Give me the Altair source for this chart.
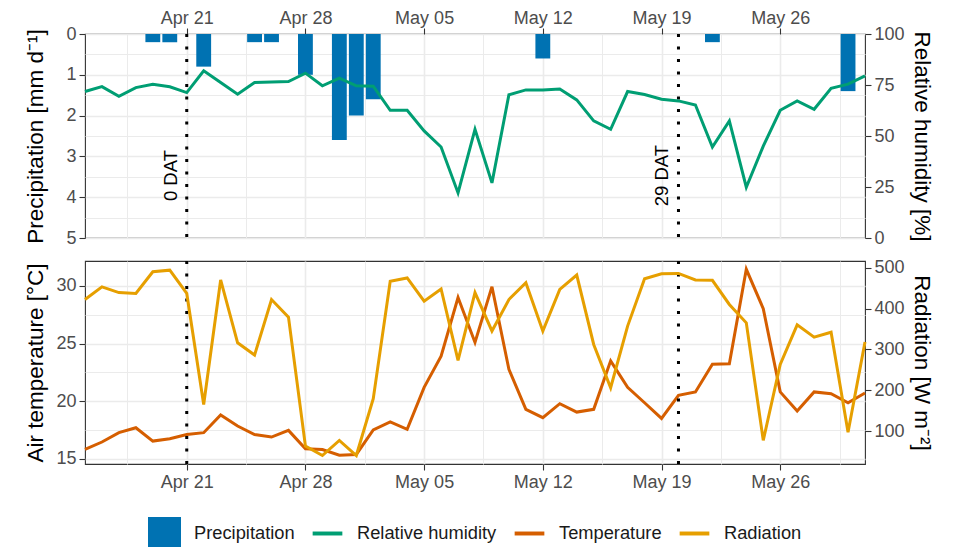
import altair as alt
import pandas as pd

# ---------------- data ----------------
days = pd.date_range("2021-04-15", "2021-05-31", freq="D")

rel_humidity = [71.8, 74.2, 69.5, 73.7, 75.4, 74.1, 71.3, 82.0, 76.2, 70.5, 76.2, 76.5, 76.7, 80.8, 74.6, 78.4,
                74.6, 74.4, 62.6, 62.6, 52.5, 44.6, 22.1, 53.3, 27.0, 70.2, 72.6, 72.5, 73.0, 67.7, 57.4, 53.3,
                71.8, 70.3, 68.0, 67.2, 65.2, 44.6, 57.4, 24.9, 45.0, 62.6, 67.2, 63.1, 73.4, 75.4, 79.5]

temperature = [15.8, 16.45, 17.26, 17.69, 16.53, 16.73, 17.1, 17.26, 18.8, 17.84, 17.1, 16.88, 17.46, 15.87, 15.8, 15.3,
               15.37, 17.5, 18.2, 17.55, 21.2, 23.9, 29.0, 25.1, 29.94, 22.76, 19.29, 18.56, 19.78, 19.05, 19.29, 23.5,
               21.2, 19.86, 18.5, 20.5, 20.8, 23.2, 23.25, 31.45, 28.03, 20.8, 19.14, 20.8, 20.65, 19.86, 20.7]

radiation = [422, 453, 439, 437, 490, 494, 437, 165, 470, 316, 286, 422, 379, 63, 40, 77,
             40, 179, 467, 475, 418, 448, 273, 439, 345, 422, 463, 345, 447, 482, 312, 206,
             357, 473, 485, 486, 470, 469, 410, 365, 77, 263, 360, 330, 342, 97, 318]

precip_dates = ["2021-04-19", "2021-04-20", "2021-04-22", "2021-04-25", "2021-04-26", "2021-04-28",
                "2021-04-30", "2021-05-01", "2021-05-02", "2021-05-12", "2021-05-22", "2021-05-30"]
precip = [0.2, 0.2, 0.8, 0.2, 0.2, 1.0, 2.6, 2.0, 1.6, 0.6, 0.2, 1.4]

dat_dates = ["2021-04-21", "2021-05-20"]
dat_labels = ["0 DAT", "29 DAT"]

series = ["Precipitation", "Relative humidity", "Temperature", "Radiation"]
series_colors = ["#0072B2", "#009E73", "#D55E00", "#E69F00"]

# ---------------- tables ----------------
df_lines = pd.DataFrame({"date": days, "rh": rel_humidity, "temp": temperature, "rad": radiation})
df_p = pd.DataFrame({"date": pd.to_datetime(precip_dates), "p": precip})
df_p["start"] = df_p["date"] - pd.Timedelta(hours=10.5)
df_p["end"] = df_p["date"] + pd.Timedelta(hours=10.5)
df_dat = pd.DataFrame({"date": pd.to_datetime(dat_dates), "label": dat_labels})
df_leg = pd.DataFrame({"series": series})

FONT = "Liberation Sans"

# ---------------- scales / axes ----------------
xscale = alt.Scale(domain=[alt.DateTime(year=2021, month=4, date=15),
                           alt.DateTime(year=2021, month=5, date=31)])
grid_start = pd.Timestamp("2021-04-17 12:00")
grid_days = [grid_start + pd.Timedelta(hours=84 * i) for i in range(13)]
grid_vals = [alt.DateTime(year=t.year, month=t.month, date=t.day, hours=t.hour) for t in grid_days]

minor_x = "hours(datum.value) != 0"


def x_axis(orient, pad):
    return alt.Axis(orient=orient, values=grid_vals, title=None, labelPadding=pad,
                    labelExpr="hours(datum.value) == 0 ? timeFormat(datum.value, '%b %d') : ''",
                    tickOpacity={"condition": {"test": minor_x, "value": 0}, "value": 1},
                    gridWidth={"condition": {"test": minor_x, "value": 1.0}, "value": 1.6},
                    grid=True, labelFlush=False, labelOverlap=False)


p_scale = alt.Scale(domain=[0, 5], reverse=True)
rh_scale = alt.Scale(domain=[0, 100])
t_scale = alt.Scale(domain=[14.54, 32.17])
r_scale = alt.Scale(domain=[19.2, 516.4])

p_axis = alt.Axis(orient="left", values=[i * 0.5 for i in range(11)],
                  labelExpr="datum.value % 1 == 0 ? format(datum.value, 'd') : ''",
                  tickOpacity={"condition": {"test": "datum.value % 1 != 0", "value": 0}, "value": 1},
                  gridWidth={"condition": {"test": "datum.value % 1 != 0", "value": 1.0}, "value": 1.6},
                  grid=True, title="Precipitation [mm d⁻¹]", titleX=-38)
rh_axis = alt.Axis(orient="right", values=[0, 25, 50, 75, 100], grid=False,
                   title="Relative humidity [%]", titleX=44)
t_axis = alt.Axis(orient="left", values=[15, 17.5, 20, 22.5, 25, 27.5, 30],
                  labelExpr="datum.value % 5 == 0 ? format(datum.value, 'd') : ''",
                  tickOpacity={"condition": {"test": "datum.value % 5 != 0", "value": 0}, "value": 1},
                  gridWidth={"condition": {"test": "datum.value % 5 != 0", "value": 1.0}, "value": 1.6},
                  grid=True, title="Air temperature [°C]", titleX=-38)
r_axis = alt.Axis(orient="right", values=[100, 200, 300, 400, 500], grid=False,
                  title="Radiation [W m⁻²]", titleX=44)

line_key = "M-0.9,-1M-0.9,1M-0.9,-0.12H0.9V0.12H-0.9Z"
shape_paths = ["M-1,-1H1V1H-1Z", line_key, line_key, line_key]

leg = alt.Legend(orient="none", legendX=63, legendY=483, direction="horizontal", columns=4,
                 title=None, symbolSize=1089, symbolOpacity=1, symbolStrokeWidth=0,
                 labelFont=FONT, labelFontSize=18.3, labelColor="#1A1A1A", labelOffset=13,
                 columnPadding=16, padding=0, labelLimit=300)

dotted = dict(color="black", strokeWidth=3, strokeDash=[3, 9.5])

top_x = x_axis("top", 1)
bot_x = x_axis("bottom", 3)

# ---------------- top panel ----------------
bars = alt.Chart(df_p).mark_bar(color="#0072B2").encode(
    x=alt.X("start:T", scale=xscale, axis=top_x),
    x2="end:T",
    y=alt.Y("p:Q", scale=p_scale, axis=p_axis),
    y2=alt.datum(0),
)
rules_top = alt.Chart(df_dat).mark_rule(**dotted).encode(x=alt.X("date:T", scale=xscale, axis=top_x))
dat_text = alt.Chart(df_dat).mark_text(angle=270, baseline="bottom", align="center", fontSize=18.5,
                                       font=FONT, color="black", dy=-6).encode(
    x=alt.X("date:T", scale=xscale, axis=top_x),
    y=alt.Y(datum=3.47, scale=p_scale, axis=p_axis),
    text="label:N",
)
legend_layer = alt.Chart(df_leg).mark_point(filled=True, opacity=0).encode(
    color=alt.Color("series:N", scale=alt.Scale(domain=series, range=series_colors), sort=series, legend=leg),
    shape=alt.Shape("series:N", scale=alt.Scale(domain=series, range=shape_paths), sort=series, legend=leg),
)
rh_line = alt.Chart(df_lines).mark_line(color="#009E73", strokeWidth=3).encode(
    x=alt.X("date:T", scale=xscale, axis=top_x),
    y=alt.Y("rh:Q", scale=rh_scale, axis=rh_axis),
)
top = alt.layer(alt.layer(bars, rules_top, dat_text, legend_layer), rh_line).resolve_scale(
    y="independent").properties(width=780, height=204)

# ---------------- bottom panel ----------------
temp_line = alt.Chart(df_lines).mark_line(color="#D55E00", strokeWidth=3).encode(
    x=alt.X("date:T", scale=xscale, axis=bot_x),
    y=alt.Y("temp:Q", scale=t_scale, axis=t_axis),
)
rules_bot = alt.Chart(df_dat).mark_rule(**dotted).encode(x=alt.X("date:T", scale=xscale, axis=bot_x))
rad_line = alt.Chart(df_lines).mark_line(color="#E69F00", strokeWidth=3).encode(
    x=alt.X("date:T", scale=xscale, axis=bot_x),
    y=alt.Y("rad:Q", scale=r_scale, axis=r_axis),
)
bottom = alt.layer(alt.layer(temp_line, rules_bot), rad_line).resolve_scale(
    y="independent").properties(width=780, height=203)

chart = alt.vconcat(top, bottom, spacing=10).properties(
    padding={"left": 15, "top": 0, "right": 0, "bottom": 0}
).configure(background="white").configure_view(stroke="#333333", strokeWidth=1.1).configure_axis(
    labelFont=FONT, labelFontSize=18, labelColor="#4D4D4D", labelPadding=3,
    titleFont=FONT, titleFontSize=22.5, titleFontWeight="normal", titleColor="black",
    tickColor="#333333", tickSize=6, tickWidth=1.1, domain=False, gridColor="#EBEBEB",
)

chart.save("out.html", embed_options={"renderer": "svg", "actions": False})
